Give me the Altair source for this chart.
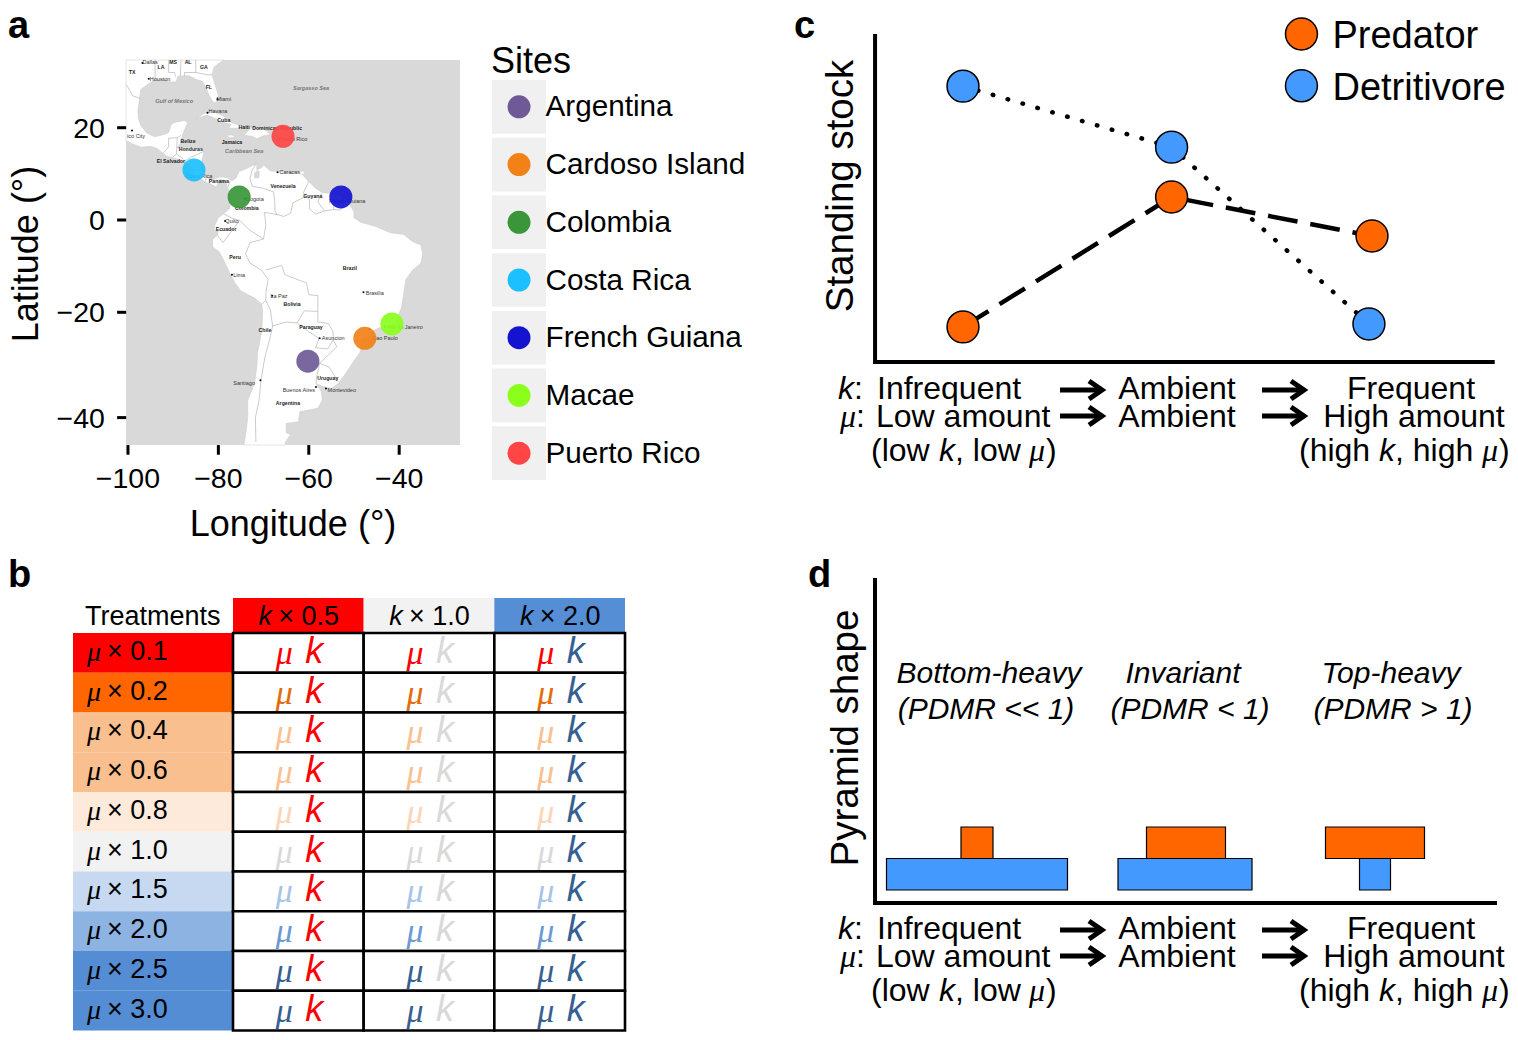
import altair as alt
import pandas as pd

FONT = "Liberation Sans"
SERIF = "Liberation Serif"

# ---------- data ----------
sites = ["Argentina", "Cardoso Island", "Colombia", "Costa Rica", "French Guiana", "Macae", "Puerto Rico"]
site_lon = [-60.2, -47.6, -75.4, -85.4, -52.9, -41.6, -65.7]
site_lat = [-29.8, -25.3, 5.1, 11.0, 5.1, -22.4, 18.2]
site_col = ["#6f5a97", "#f28118", "#3a9639", "#1cc0ff", "#1414d0", "#8aff1c", "#ff4545"]

americas = [(-106,35),(-77,35),(-78,33.9),(-81,32),(-81.4,30.5),(-80.5,28),(-80,26.5),(-80.4,25.2),(-81.2,25.2),(-81.8,26.2),(-82.8,28),(-83.5,29.3),(-85,29.7),(-86.5,30.4),(-89,30.3),(-89.3,29.2),(-90.5,29.2),(-92,29.6),(-94,29.6),(-95.5,28.8),(-97.2,27.7),(-97.4,26),(-97.8,23.5),(-97.7,22),(-97.2,20.5),(-96,19),(-95,18.5),(-94,18.1),(-92,18.6),(-91,19),(-90.5,20.5),(-90,21),(-87.5,21.5),(-86.8,21),(-87.5,19.5),(-88,18.4),(-88.3,17),(-88.9,15.9),(-88,15.8),(-86,15.9),(-84,15.8),(-83.2,15),(-83.6,13),(-83.7,11),(-83,10),(-82,9),(-81,8.9),(-79.7,9.5),(-78,9.3),(-77,8.6),(-76,9.3),(-75.5,10.6),(-74.5,11),(-72.5,11.9),(-71.5,12.4),(-71.5,11),(-70.5,11.5),(-70,12.1),(-68.5,10.8),(-66,10.6),(-64,10.2),(-62,10.7),(-61,9.5),(-60,8.5),(-58.5,7),(-57,6),(-55,5.9),(-53,5.4),(-51.5,4.2),(-50,1.8),(-50,0.5),(-48.5,-0.5),(-45,-1.5),(-42,-2.8),(-39,-3.2),(-37,-4.8),(-35.2,-5.5),(-34.8,-7.5),(-35.2,-9.5),(-37,-11),(-38.5,-13),(-39,-16),(-39.5,-19),(-40.8,-22),(-42,-23),(-44.5,-23.2),(-46.5,-24.2),(-48.5,-25.6),(-48.6,-28),(-50.2,-30),(-52,-32.3),(-53.5,-34),(-55,-34.9),(-57,-34.5),(-58.4,-34),(-57.2,-35.5),(-57,-37),(-58,-38.4),(-62,-39),(-62.3,-40.7),(-65,-41),(-65,-42.5),(-64,-42.8),(-65.2,-44),(-65,-47),(-75,-47),(-74,-43),(-73.5,-40),(-73.5,-37),(-72,-34),(-71.5,-31),(-71.3,-28),(-70.4,-24),(-70.2,-20),(-70.4,-18.3),(-72,-17),(-75,-15.5),(-76.3,-13.8),(-77.3,-12),(-78.5,-9.5),(-79.8,-7),(-81.2,-6),(-81.3,-4.3),(-80.2,-3.3),(-80,-2.5),(-81,-2.2),(-80.7,-1),(-80,0.5),(-78.9,1.4),(-77.5,2.5),(-77.3,4),(-77.5,6),(-78,7.2),(-78.5,8.7),(-79.7,8.9),(-80.5,7.3),(-82,8.1),(-83,8.3),(-84,9.4),(-85.7,10),(-85.7,11),(-87.5,13),(-89.5,13.5),(-91.5,14),(-93.5,15.6),(-95,16.1),(-97,15.9),(-99,16.6),(-106,20)]
islands = [
    [(-84.9,21.9),(-83,23),(-81,23.2),(-79,22.5),(-77,21),(-74.2,20.2),(-75.5,19.9),(-77.7,19.9),(-77.2,20.7),(-78.5,21),(-80.5,21.8),(-82.5,22.6)],
    [(-74.4,18.4),(-72.8,19.9),(-70,19.8),(-68.4,18.6),(-70,18.3),(-71.5,17.7),(-72.5,18.2)],
    [(-78.3,18.4),(-77,18.5),(-76.2,18),(-77.5,17.9)],
    [(-67.2,18.5),(-65.7,18.4),(-65.8,18),(-67.2,18)],
    [(-61.9,10.7),(-61,10.8),(-61,10.1),(-61.9,10.1)],
]
lakes = [[(-71.5,10.8),(-71,10.8),(-71,9.3),(-72,9.3),(-72,10.3)]]
borders = [
    [(-106,31.7),(-104.5,29.6),(-103,29),(-101.5,29.8),(-100,28.2),(-99,26.5),(-97.2,25.9)],
    [(-92.2,14.6),(-91,16),(-91,17.8),(-89.1,17.9),(-88.3,18.4)],
    [(-89.1,17.9),(-89.2,15.9),(-88.2,15.7)],
    [(-90.1,13.8),(-89.3,14.4),(-88.5,13.9),(-87.7,13.3)],
    [(-89.3,14.4),(-89.2,15.9)],
    [(-87.4,13),(-85.5,14),(-83.2,15)],
    [(-85.7,11.1),(-83.7,10.9)],
    [(-83,8.3),(-82.6,9.6)],
    [(-77.4,8.6),(-77.9,7.2)],
    [(-71.7,12.3),(-72.5,11),(-73,9.2),(-72.5,7.4),(-70,7),(-67.8,6.2),(-67.5,3.8),(-67.5,2),(-67,1.2)],
    [(-60,8.5),(-61.2,6),(-60.7,5.2)],
    [(-67,1.2),(-65.5,0.8),(-64,1.5),(-63.5,3.8),(-60.7,5.2)],
    [(-60.7,5.2),(-59.8,4.5),(-59.9,2.5),(-58.5,1.3),(-56.5,2)],
    [(-57.2,5.9),(-58,4),(-56.5,2)],
    [(-54,5.8),(-54.5,3.5),(-54.5,2.3)],
    [(-51.7,4.1),(-53,2.2),(-54.5,2.3),(-56.5,2)],
    [(-67,1.2),(-69.8,1.7),(-69.5,-1),(-70,-4.2)],
    [(-78.9,1.4),(-77,0.4),(-75.3,-0.1)],
    [(-75.3,-0.1),(-73,-2.3),(-70,-4.2)],
    [(-80.2,-3.4),(-79,-5),(-77.5,-3),(-75.3,-0.1)],
    [(-70,-4.2),(-73,-5),(-74,-7.5),(-73,-9.5),(-70.5,-11)],
    [(-70.5,-11),(-69,-13),(-69.5,-16),(-69.5,-17.5)],
    [(-69.5,-11),(-66,-10),(-65.3,-12),(-60.5,-13.8),(-60,-16.3),(-58,-16.5),(-58,-19.8)],
    [(-70.4,-18.3),(-69.5,-17.5),(-68.5,-19.5),(-68,-22.8)],
    [(-68,-22.8),(-65,-22),(-62.6,-22.2),(-61,-19.7),(-58,-19.8)],
    [(-68,-22.8),(-68.5,-25),(-69.7,-29),(-70.5,-33),(-71,-37),(-71.8,-40),(-71.7,-44)],
    [(-58,-19.8),(-58,-22),(-55.7,-22.3),(-54.6,-24),(-54.6,-25.6)],
    [(-62.6,-22.2),(-60,-24),(-57.7,-25.3),(-58.5,-27.2),(-55.8,-27.4),(-54.6,-25.6)],
    [(-54.6,-25.6),(-53.8,-27),(-57.6,-30.2)],
    [(-57.6,-30.2),(-58.3,-33),(-58.4,-34)],
    [(-57.6,-30.2),(-55.5,-30.9),(-53.5,-33.7)],
    [(-94,35),(-94,29.6)],
    [(-91,35),(-91,31),(-89.7,31),(-89.5,30.2)],
    [(-88.2,35),(-88.4,30.3)],
    [(-85,35),(-85,31),(-87.5,31),(-87.5,30.3)],
    [(-85,31),(-82,30.5),(-81.4,30.7)],
]
bold_labels = ["MS","LA","AL","GA","TX","FL","Cuba","Haiti","Dominican Republic","Belize","Jamaica","Honduras","El Salvador","Panama","Venezuela","Guyana","Colombia","Ecuador","Peru","Brazil","Bolivia","Paraguay","Chile","Uruguay","Argentina"]
bold_lon = [-90,-92.7,-86.7,-83.2,-99.1,-82.1,-78.8,-74.3,-67,-86.7,-77,-86.1,-90.5,-79.9,-65.7,-59.1,-73.7,-78.3,-76.3,-50.9,-63.7,-59.5,-69.7,-55.8,-64.6]
bold_lat = [33,32.1,33,32.1,31.1,28.2,21.6,20.1,19.9,17.2,16.97,15.5,12.9,8.6,7.5,5.3,2.6,-2,-8.2,-10.5,-18.2,-23,-23.7,-33,-37.5]
city_labels = ["Dallas","Houston","Miami","Havana","Puerto Rico","ico City","Costa Rica","Caracas","French Guiana","Bogota","Quito","Lima","Brasilia","La Paz","Asuncion","Rio de Janeiro","Sao Paulo","Santiago","Buenos Aires","Montevideo"]
city_lon = [-95.1,-92.9,-78.8,-80.1,-63.5,-98.2,-84.3,-64.2,-51.5,-71.9,-77,-75.4,-45.4,-66.6,-54.6,-38.7,-43.1,-74.3,-62.2,-52.7]
city_lat = [33,29.8,25.8,23.4,17.6,18.2,9.7,10.5,4.2,4.6,-0.2,-12.1,-16,-16.6,-25.3,-23,-25.3,-33.8,-35.2,-35.2]
sea_labels = ["Gulf of Mexico","Sargasso Sea","Caribbean Sea"]
sea_lon = [-89.8,-59.5,-74.3]
sea_lat = [25.4,28,15]
dot_lon = [-96.8,-95.4,-80.2,-82.4,-66.9,-74.1,-78.5,-77,-68.1,-47.9,-57.6,-43.2,-46.6,-70.7,-58.4,-56.2,-99.1]
dot_lat = [32.8,29.8,25.8,23.1,10.5,4.7,-0.2,-12,-16.5,-15.8,-25.3,-22.9,-23.5,-33.4,-34.6,-34.9,19.4]
lon_ticks = [-100,-80,-60,-40]
lat_ticks = [20,0,-20,-40]

k_levels = ["k × 0.5","k × 1.0","k × 2.0"]
k_head_col = ["#ff0000","#f2f2f2","#558ed5"]
k_col = ["#ff0000","#d9d9d9","#366092"]
mu_levels = ["0.1","0.2","0.4","0.6","0.8","1.0","1.5","2.0","2.5","3.0"]
mu_fill = ["#ff0000","#ff6600","#f9bf8f","#f9bf8f","#fdeadb","#f2f2f2","#c6d9f0","#8db3e2","#548dd4","#548dd4"]
mu_text = ["#ff0000","#e36c0a","#fac090","#fac090","#fbd5b5","#d9d9d9","#a6c4e8","#6a9ad6","#366092","#366092"]

stage = [0, 1.02, 2]
pred_stock = [0.107, 0.503, 0.384]
det_stage = [0, 1.02, 1.985]
det_stock = [0.841, 0.655, 0.116]

pyr_center = [102, 311, 500]
pyr_pred = [32, 79, 99]
pyr_det = [181, 134, 31]
pyr_det_center = [102, 310, 500]
pyr_names = ["Bottom-heavy","Invariant","Top-heavy"]
pyr_sub = ["(PDMR << 1)","(PDMR < 1)","(PDMR > 1)"]

ORANGE, BLUE = "#ff6600", "#4499ff"

# ---------- helpers ----------
def lin(d0, d1, r0, r1):
    return alt.Scale(domain=[d0, d1], range=[r0 - 8, r1 - 8], zero=False, nice=False)

class Panel:
    def __init__(self, x0, y0, w, h):
        self.x = lin(0, w, x0, x0 + w)
        self.y = lin(0, h, y0, y0 + h)

def X(p, f="x"): return alt.X(f"{f}:Q", scale=p.x, axis=None)
def Y(p, f="y"): return alt.Y(f"{f}:Q", scale=p.y, axis=None)

def text(p, t, x, y, size, align="left", style="normal", weight="normal", font=FONT, angle=0, color="black"):
    d = pd.DataFrame({"t": [t], "x": [x], "y": [y]})
    return alt.Chart(d).mark_text(font=font, fontSize=size, align=align, baseline="middle",
                                  fontStyle=style, fontWeight=weight, angle=angle, color=color
                                  ).encode(x=X(p), y=Y(p), text="t:N")

proj = dict(type="mercator", scale=259, translate=[572, 212],
            clipExtent=[[118, 52], [452, 437]])

def clockwise(ring):
    a = sum(ring[i][0] * ring[(i + 1) % len(ring)][1] - ring[(i + 1) % len(ring)][0] * ring[i][1] for i in range(len(ring)))
    r = list(ring) if a < 0 else list(reversed(ring))
    return [list(c) for c in r] + [list(r[0])]

def polys(rings):
    return [{"type": "Feature", "properties": {}, "geometry": {"type": "Polygon", "coordinates": [clockwise(r)]}} for r in rings]

def lines(ls):
    return [{"type": "Feature", "properties": {}, "geometry": {"type": "LineString", "coordinates": [list(c) for c in l]}} for l in ls]

def geo_text(names, lons, lats, size, weight="normal", color="black", style="normal"):
    d = pd.DataFrame({"t": names, "lon": lons, "lat": lats})
    return alt.Chart(d).mark_text(font=FONT, fontSize=size, fontWeight=weight, color=color, fontStyle=style,
                                  baseline="middle").encode(
        longitude="lon:Q", latitude="lat:Q", text="t:N").project(**proj)

layers = []

# ---------- panel a ----------
pa = Panel(126, 60, 334, 385)
bg = pd.DataFrame({"x": [0], "x2": [334], "y": [0], "y2": [385]})
layers.append(alt.Chart(bg).mark_rect(color="#d9d9d9").encode(x=X(pa), x2="x2:Q", y=Y(pa), y2="y2:Q"))
layers.append(alt.Chart(alt.Data(values=polys([americas] + islands))).mark_geoshape(fill="white", stroke="#c8c8c8", strokeWidth=0.5).project(**proj))
layers.append(alt.Chart(alt.Data(values=polys(lakes))).mark_geoshape(fill="#d9d9d9", stroke="#bdbdbd", strokeWidth=0.4).project(**proj))
layers.append(alt.Chart(alt.Data(values=lines(borders))).mark_geoshape(filled=False, stroke="#b5b5b5", strokeWidth=0.7).project(**proj))
layers.append(alt.Chart(pd.DataFrame({"lon": dot_lon, "lat": dot_lat})).mark_circle(size=4, color="black", opacity=1).encode(longitude="lon:Q", latitude="lat:Q").project(**proj))
layers.append(geo_text(city_labels, city_lon, city_lat, 5.5, color="#333333"))
layers.append(geo_text(bold_labels, bold_lon, bold_lat, 5.2, weight="bold", color="#222222"))
layers.append(geo_text(sea_labels, sea_lon, sea_lat, 5.5, weight="bold", color="#777777", style="italic"))
layers.append(alt.Chart(pd.DataFrame({"lon": site_lon, "lat": site_lat, "c": site_col})).mark_circle(size=531, opacity=0.92).encode(
    longitude="lon:Q", latitude="lat:Q", color=alt.Color("c:N", scale=None)).project(**proj))

# axis ticks and labels
lt = pd.DataFrame({"lat": lat_ticks, "lon": [-100.4] * 4, "lon2": [-102.4] * 4, "t": [str(v).replace("-", "\u2212") for v in lat_ticks], "l": [-100] * 4})
layers.append(alt.Chart(lt).mark_rule(strokeWidth=3, color="black").encode(
    longitude="lon:Q", latitude="lat:Q", longitude2="lon2:Q", latitude2="lat:Q").project(**proj))
layers.append(alt.Chart(lt).mark_text(font=FONT, fontSize=28.5, align="right", baseline="middle", dx=-23, dy=1).encode(
    longitude="l:Q", latitude="lat:Q", text="t:N").project(**proj))
xt = pd.DataFrame({"lon": lon_ticks, "lat": [-44.5] * 4, "lat2": [-46.0] * 4, "t": [str(v).replace("-", "\u2212") for v in lon_ticks]})
layers.append(alt.Chart(xt).mark_rule(strokeWidth=3, color="black").encode(
    longitude="lon:Q", latitude="lat:Q", longitude2="lon:Q", latitude2="lat2:Q").project(**proj))
layers.append(alt.Chart(xt).mark_text(font=FONT, fontSize=28.5, align="center", baseline="middle", dy=34).encode(
    longitude="lon:Q", latitude="lat:Q", text="t:N").project(**proj))

page = Panel(0, 0, 1518, 1040)
layers.append(text(page, "Longitude (°)", 293, 525, 36, align="center"))
layers.append(text(page, "Latitude (°)", 27, 254, 36, align="center", angle=270))
layers.append(text(page, "a", 8, 27, 38, weight="bold"))
layers.append(text(page, "b", 8, 576, 38, weight="bold"))
layers.append(text(page, "c", 794, 27, 38, weight="bold"))
layers.append(text(page, "d", 808, 576, 38, weight="bold"))

# legend of sites
site_y = alt.Y("s:N", scale=alt.Scale(type="band", domain=sites, range=[72, 472], paddingInner=0.07, paddingOuter=0), axis=None)
ld = pd.DataFrame({"s": sites, "c": site_col})
layers.append(alt.Chart(ld).mark_rect(color="#f0f0f0").encode(x=alt.value(484), x2=alt.value(538), y=site_y))
layers.append(alt.Chart(ld).mark_circle(size=531, opacity=1).encode(x=alt.value(511), y=site_y, color=alt.Color("c:N", scale=None)))
layers.append(alt.Chart(ld).mark_text(font=FONT, fontSize=29.7, align="left", baseline="middle", dx=-0.5, dy=0.5).encode(x=alt.value(538), y=site_y, text="s:N"))
layers.append(text(page, "Sites", 491, 62, 36))

# ---------- panel b ----------
col_scale = alt.Scale(type="band", domain=k_levels, range=[225, 617], padding=0)
row_scale = alt.Scale(type="band", domain=mu_levels, range=[625, 1022.5], padding=0)
cells = pd.DataFrame([{"k": k, "mu": m, "kc": k_col[i], "mc": mu_text[j]} for i, k in enumerate(k_levels) for j, m in enumerate(mu_levels)])
col_enc = alt.X("k:N", scale=col_scale, axis=None)
row_enc = alt.Y("mu:N", scale=row_scale, axis=None)
layers.append(alt.Chart(pd.DataFrame({"k": k_levels, "c": k_head_col, "y": [0] * 3, "y2": [35] * 3})).mark_rect().encode(
    x=col_enc, y=alt.Y("y:Q", scale=lin(0, 35, 598, 633), axis=None), y2="y2:Q", color=alt.Color("c:N", scale=None)))
layers.append(alt.Chart(pd.DataFrame({"mu": mu_levels, "c": mu_fill, "x": [0] * 10, "x2": [159] * 10})).mark_rect().encode(
    x=alt.X("x:Q", scale=lin(0, 159, 73, 232), axis=None), x2="x2:Q", y=row_enc, color=alt.Color("c:N", scale=None)))
layers.append(alt.Chart(cells).mark_rect(fill="white", stroke="black", strokeWidth=2.6).encode(x=col_enc, y=row_enc))
layers.append(alt.Chart(cells).mark_text(font=SERIF, fontStyle="italic", fontSize=34, dx=-14, dy=1).encode(
    x=col_enc, y=row_enc, text=alt.value("μ"), color=alt.Color("mc:N", scale=None)))
layers.append(alt.Chart(cells).mark_text(font=FONT, fontStyle="italic", fontSize=36, dx=16, dy=-1).encode(
    x=col_enc, y=row_enc, text=alt.value("k"), color=alt.Color("kc:N", scale=None)))
rl = pd.DataFrame({"mu": mu_levels, "t": ["× " + m for m in mu_levels], "x": [34] * 10, "xm": [21] * 10})
lab_x = lin(0, 159, 73, 232)
layers.append(alt.Chart(rl).mark_text(font=FONT, fontSize=27, align="left", dy=-1).encode(
    x=alt.X("x:Q", scale=lab_x, axis=None), y=row_enc, text="t:N"))
layers.append(alt.Chart(rl).mark_text(font=SERIF, fontStyle="italic", fontSize=28, align="center", dy=0).encode(
    x=alt.X("xm:Q", scale=lab_x, axis=None), y=row_enc, text=alt.value("μ")))
hl = pd.DataFrame({"k": k_levels, "t": [k[2:] for k in k_levels]})
layers.append(alt.Chart(hl).mark_text(font=FONT, fontSize=27, align="left", baseline="middle", dx=-20).encode(
    x=col_enc, y=alt.value(609), text="t:N"))
layers.append(alt.Chart(hl).mark_text(font=FONT, fontStyle="italic", fontSize=27, align="center", baseline="middle", dx=-33).encode(
    x=col_enc, y=alt.value(609), text=alt.value("k")))
layers.append(text(page, "Treatments", 85, 617, 27))

# ---------- panel c ----------
cx = lin(0, 2, 963, 1372)
cy = lin(0, 1, 362, 34)
def cX(): return alt.X("x:Q", scale=cx, axis=None)
def cY(): return alt.Y("y:Q", scale=cy, axis=None)
ax_c = pd.DataFrame({"x": [-0.43, -0.43, 2.6], "y": [1, 0, 0], "i": [0, 1, 2]})
layers.append(alt.Chart(ax_c).mark_line(color="black", strokeWidth=4, strokeJoin="miter").encode(x=cX(), y=cY(), order="i:Q"))
pdf = pd.DataFrame({"x": stage, "y": pred_stock})
ddf = pd.DataFrame({"x": det_stage, "y": det_stock})
layers.append(alt.Chart(ddf).mark_line(color="black", strokeWidth=4.5, strokeDash=[0.5, 15], strokeCap="round").encode(x=cX(), y=cY()))
layers.append(alt.Chart(pdf).mark_line(color="black", strokeWidth=4.5, strokeDash=[30, 13]).encode(x=cX(), y=cY()))
layers.append(alt.Chart(ddf).mark_point(filled=True, fill=BLUE, stroke="black", strokeWidth=1.5, size=1018, opacity=1, shape="circle").encode(x=cX(), y=cY()))
layers.append(alt.Chart(pdf).mark_point(filled=True, fill=ORANGE, stroke="black", strokeWidth=1.5, size=1018, opacity=1, shape="circle").encode(x=cX(), y=cY()))
lg = pd.DataFrame({"x": [1.655, 1.655], "y": [1.0, 0.842], "f": [ORANGE, BLUE], "t": ["Predator", "Detritivore"]})
layers.append(alt.Chart(lg).mark_point(filled=True, stroke="black", strokeWidth=1.5, size=1018, opacity=1, shape="circle").encode(
    x=cX(), y=cY(), fill=alt.Fill("f:N", scale=None)))
layers.append(alt.Chart(lg).mark_text(font=FONT, fontSize=38, align="left", baseline="middle", dx=31, dy=3).encode(x=cX(), y=cY(), text="t:N"))
layers.append(text(page, "Standing stock", 841, 186, 38.5, align="center", angle=270))

# strip of labels under panels c and d
def strip(y0):
    p = Panel(830, y0, 690, 100)
    out = []
    out.append(text(p, "k", 8, 14, 32, style="italic"))
    out.append(text(p, ":", 24, 14, 32))
    out.append(text(p, "Infrequent", 47, 14, 32))
    out.append(text(p, "μ", 10, 42, 32, style="italic", font=SERIF))
    out.append(text(p, ":", 26, 42, 32))
    out.append(text(p, "Low amount", 46, 42, 32))
    out.append(text(p, "Ambient", 347, 14, 32, align="center"))
    out.append(text(p, "Ambient", 347, 42, 32, align="center"))
    out.append(text(p, "Frequent", 581, 14, 32, align="center"))
    out.append(text(p, "High amount", 584, 42, 32, align="center"))
    for t, x, st, f in [("(low", 41, "normal", FONT), ("k", 109, "italic", FONT), (", low", 125, "normal", FONT),
                        ("μ", 199, "italic", SERIF), (")", 216, "normal", FONT),
                        ("(high", 469, "normal", FONT), ("k", 549, "italic", FONT), (", high", 565, "normal", FONT),
                        ("μ", 652, "italic", SERIF), (")", 669, "normal", FONT)]:
        out.append(text(p, t, x, 76, 32, style=st, font=f))
    rows = []
    g = 0
    for x0, x1 in [(230, 272), (432, 474)]:
        for y in (15, 41):
            for x, yy in [(x0, y), (x1 - 1, y)]:
                rows.append({"x": x, "y": yy, "g": g})
            g += 1
            for x, yy in [(x1 - 13, y - 9), (x1, y), (x1 - 13, y + 9)]:
                rows.append({"x": x, "y": yy, "g": g})
            g += 1
    rows = [dict(r, i=i) for i, r in enumerate(rows)]
    out.append(alt.Chart(pd.DataFrame(rows)).mark_line(color="black", strokeWidth=5, strokeJoin="miter").encode(
        x=X(p), y=Y(p), detail="g:N", order="i:Q"))
    return out
layers += strip(375)
layers += strip(915)

# ---------- panel d ----------
pd_ = Panel(875, 578, 622, 325)
ax_d = pd.DataFrame({"x": [0, 0, 622], "y": [0, 325, 325], "i": [0, 1, 2]})
layers.append(alt.Chart(ax_d).mark_line(color="black", strokeWidth=4, strokeJoin="miter").encode(x=X(pd_), y=Y(pd_), order="i:Q"))
level_y = alt.Y("lev:N", scale=alt.Scale(type="band", domain=["Predator", "Detritivore"], range=[819, 882], padding=0), axis=None)
bars = pd.DataFrame(
    [{"lev": "Detritivore", "x": c - w / 2, "x2": c + w / 2, "f": BLUE} for c, w in zip(pyr_det_center, pyr_det)] +
    [{"lev": "Predator", "x": c - w / 2, "x2": c + w / 2, "f": ORANGE} for c, w in zip(pyr_center, pyr_pred)])
layers.append(alt.Chart(bars).mark_rect(stroke="black", strokeWidth=1.2).encode(
    x=X(pd_), x2="x2:Q", y=level_y, fill=alt.Fill("f:N", scale=None)))
for n, s, xa, xb in zip(pyr_names, pyr_sub, [114, 308, 516], [111, 315, 518]):
    layers.append(text(pd_, n, xa, 96, 30, align="center", style="italic"))
    layers.append(text(pd_, s, xb, 132, 30, align="center", style="italic"))
layers.append(text(page, "Pyramid shape", 846, 738, 38.5, align="center", angle=270))

chart = alt.layer(*layers).resolve_scale(x="independent", y="independent").properties(
    width=1502, height=1024, padding=0, autosize=alt.AutoSizeParams(type="none")
).configure_view(stroke=None)

chart.save("out.html", embed_options={"renderer": "svg", "actions": False})
